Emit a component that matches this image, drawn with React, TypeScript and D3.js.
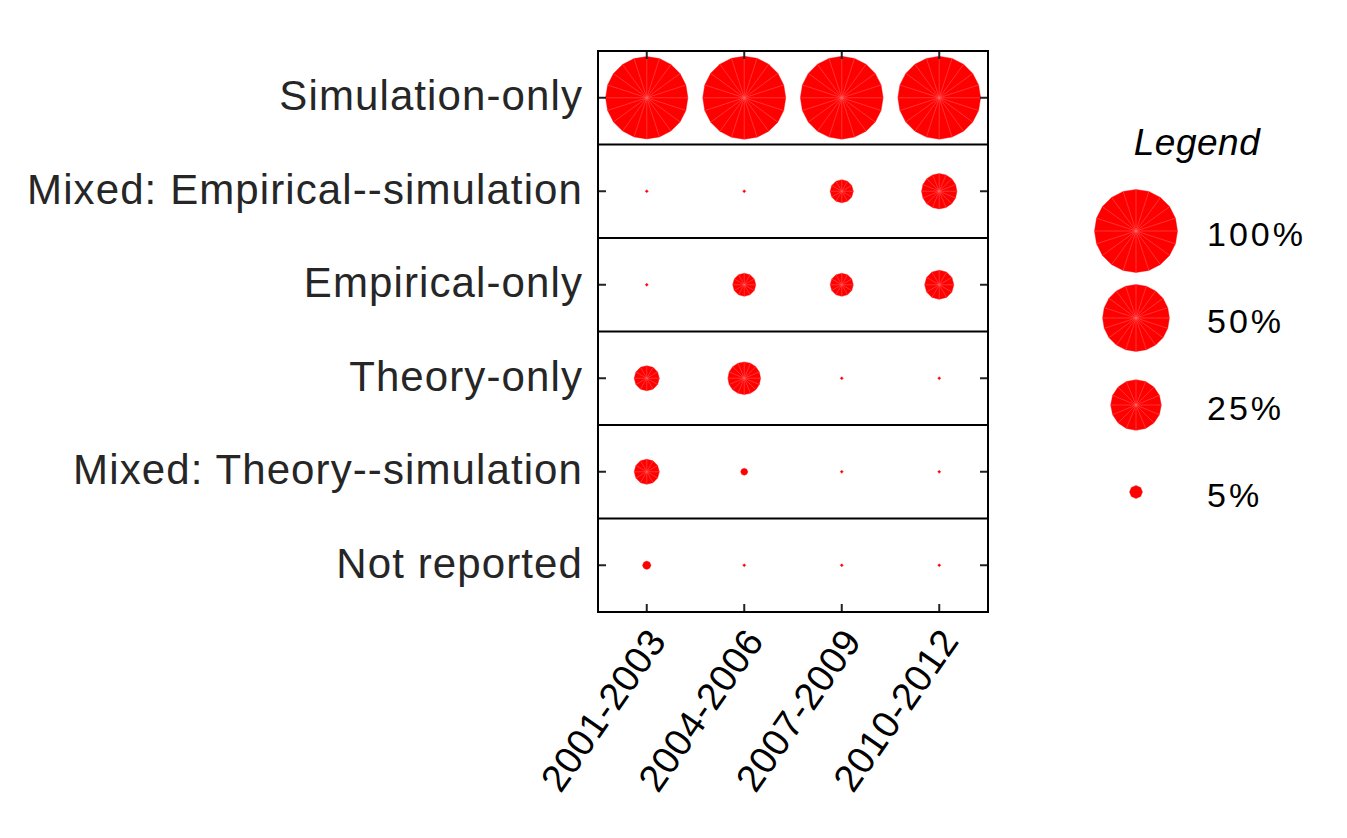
import React from "react";
import * as d3 from "d3";

const categories = [
  "Simulation-only",
  "Mixed: Empirical--simulation",
  "Empirical-only",
  "Theory-only",
  "Mixed: Theory--simulation",
  "Not reported",
];
const periods = ["2001-2003", "2004-2006", "2007-2009", "2010-2012"];

// percentage values per category, one entry per period
const simulationOnly = [97, 100, 99, 99];
const mixedEmpiricalSimulation = [0, 0, 7.7, 13];
const empiricalOnly = [0, 7.7, 7.7, 10];
const theoryOnly = [8.4, 11.6, 0, 0];
const mixedTheorySimulation = [8.4, 3.9, 0, 0];
const notReported = [4.1, 0, 0, 0];

const seriesValues = [
  simulationOnly,
  mixedEmpiricalSimulation,
  empiricalOnly,
  theoryOnly,
  mixedTheorySimulation,
  notReported,
];

const legendValues = [100, 50, 25, 5];
const legendLabels = ["100%", "50%", "25%", "5%"];

const W = 1347;
const H = 838;
const PANEL = { left: 598, right: 988, top: 51, bottom: 612 };
const MIN_R = 1.6;
const RED = "#ff0000";
const SPOKE = "#ff6a6a";

const rScale = d3.scaleLog().domain([5, 100]).range([6.5, 41.5]);
const radius = (v: number) => (v <= 0 ? MIN_R : Math.max(MIN_R, rScale(v)));

function sidesFor(r: number) {
  if (r >= 30) return 20;
  if (r >= 15) return 16;
  if (r >= 7) return 12;
  if (r >= 3) return 8;
  return 4;
}

function Bubble({ cx, cy, r }: { cx: number; cy: number; r: number }) {
  const n = sidesFor(r);
  const pts = d3.range(n).map((i) => {
    const a = (i / n) * Math.PI * 2;
    return [cx + r * Math.cos(a), cy - r * Math.sin(a)] as [number, number];
  });
  const poly = pts.map((p) => p.join(",")).join(" ");
  return (
    <g>
      <polygon points={poly} fill={RED} stroke={RED} strokeWidth={0.4} />
      {r >= 7 &&
        pts.map((p, i) => (
          <line
            key={i}
            x1={cx}
            y1={cy}
            x2={p[0]}
            y2={p[1]}
            stroke={SPOKE}
            strokeWidth={0.6}
            strokeOpacity={0.8}
          />
        ))}
    </g>
  );
}

export default function App() {
  const x = d3.scaleBand<string>().domain(periods).range([PANEL.left, PANEL.right]);
  const y = d3.scaleBand<string>().domain(categories).range([PANEL.top, PANEL.bottom]);
  const xc = (p: string) => (x(p) as number) + x.bandwidth() / 2;
  const yc = (c: string) => (y(c) as number) + y.bandwidth() / 2;

  const legendY = d3.scalePoint<number>().domain(legendValues).range([231, 492]);
  const legendX = 1136;
  const tick = 8;

  return (
    <svg width={W} height={H} style={{ position: "absolute", left: 0, top: 0, background: "#fff" }}>
      <rect x={0} y={0} width={W} height={H} fill="#fff" />
      {/* bubbles */}
      {categories.map((c, ri) =>
        periods.map((p, ci) => (
          <Bubble key={c + p} cx={xc(p)} cy={yc(c)} r={radius(seriesValues[ri][ci])} />
        ))
      )}
      {/* row separators */}
      {categories.slice(1).map((c) => (
        <line
          key={"sep" + c}
          x1={PANEL.left}
          x2={PANEL.right}
          y1={y(c) as number}
          y2={y(c) as number}
          stroke="#000"
          strokeWidth={2}
        />
      ))}
      {/* ticks */}
      {periods.map((p) => (
        <g key={"xt" + p} stroke="#222" strokeWidth={2}>
          <line x1={xc(p)} x2={xc(p)} y1={PANEL.top} y2={PANEL.top + tick} />
          <line x1={xc(p)} x2={xc(p)} y1={PANEL.bottom} y2={PANEL.bottom - tick} />
        </g>
      ))}
      {categories.map((c) => (
        <g key={"yt" + c} stroke="#222" strokeWidth={2}>
          <line x1={PANEL.left} x2={PANEL.left + tick} y1={yc(c)} y2={yc(c)} />
          <line x1={PANEL.right} x2={PANEL.right - tick} y1={yc(c)} y2={yc(c)} />
        </g>
      ))}
      {/* frame */}
      <rect
        x={PANEL.left}
        y={PANEL.top}
        width={PANEL.right - PANEL.left}
        height={PANEL.bottom - PANEL.top}
        fill="none"
        stroke="#000"
        strokeWidth={2}
      />
      {/* y labels */}
      {categories.map((c) => (
        <text
          key={"yl" + c}
          x={583}
          y={yc(c)}
          dy="0.3em"
          textAnchor="end"
          fontFamily="'Liberation Sans', Arial, Helvetica, sans-serif"
          fontSize={42}
          letterSpacing={1.1}
          fill="#262626"
        >
          {c}
        </text>
      ))}
      {/* x labels */}
      {periods.map((p) => (
        <text
          key={"xl" + p}
          transform={`translate(${xc(p) + 21},${PANEL.bottom + 29}) rotate(-55)`}
          textAnchor="end"
          fontFamily="'Liberation Sans', Arial, Helvetica, sans-serif"
          fontSize={38}
          letterSpacing={0.6}
          fill="#000"
        >
          {p}
        </text>
      ))}
      {/* legend */}
      <text
        x={1197}
        y={155}
        textAnchor="middle"
        fontFamily="'Liberation Sans', Arial, Helvetica, sans-serif"
        fontStyle="italic"
        fontSize={37}
        letterSpacing={0.5}
        fill="#000"
      >
        Legend
      </text>
      {legendValues.map((v, i) => (
        <g key={"lg" + v}>
          <Bubble cx={legendX} cy={legendY(v) as number} r={radius(v)} />
          <text
            x={1207}
            y={(legendY(v) as number) + 15}
            fontFamily="'Liberation Sans', Arial, Helvetica, sans-serif"
            fontSize={34}
            letterSpacing={3}
            fill="#000"
          >
            {legendLabels[i]}
          </text>
        </g>
      ))}
    </svg>
  );
}
